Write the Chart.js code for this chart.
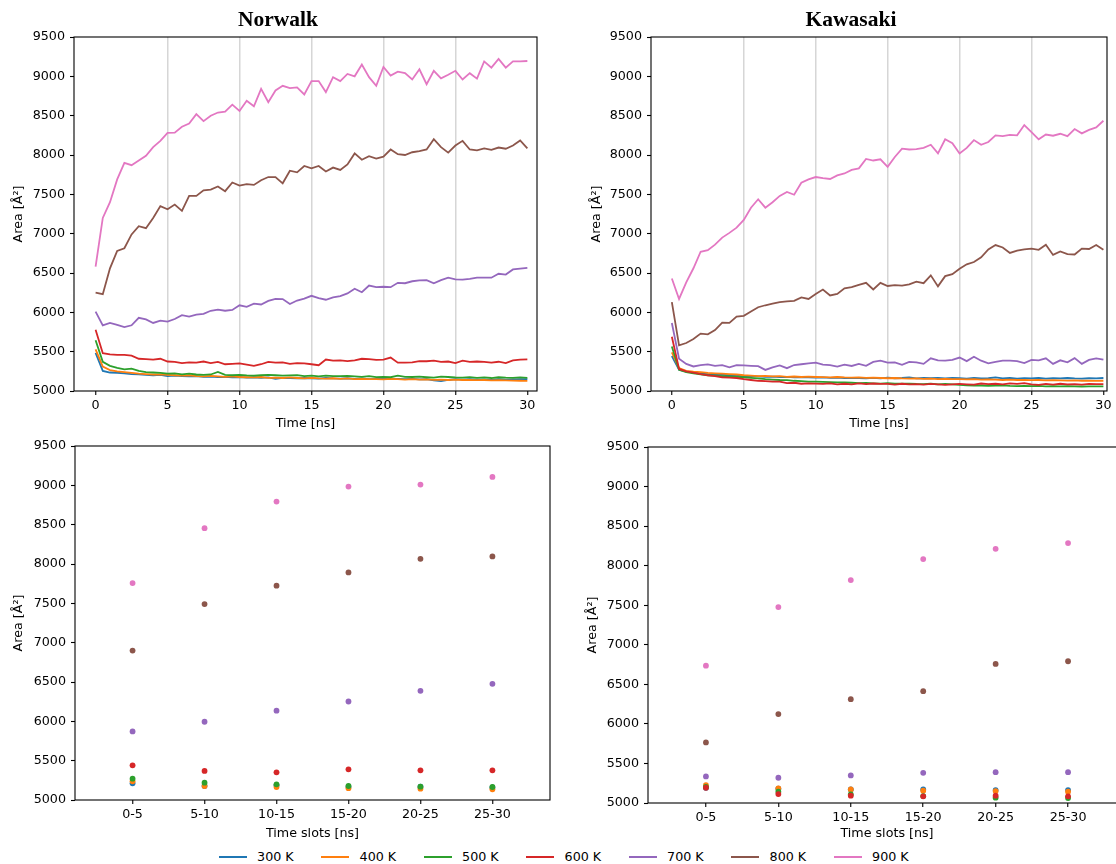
<!DOCTYPE html>
<html>
<head>
<meta charset="utf-8">
<script src="https://cdn.jsdelivr.net/npm/chart.js@4.4.1/dist/chart.umd.min.js"></script>
<style>
  html, body { margin: 0; padding: 0; background: #fff; }
  body { width: 1116px; height: 864px; position: relative; overflow: hidden; font-family: "DejaVu Sans", sans-serif; }
  canvas { position: absolute; }
  #legend { position: absolute; left: 218.6px; top: 848px; display: flex; font-size: 12.7px; color: #000; }
  .item { width: 102.5px; display: flex; align-items: center; height: 17px; white-space: nowrap; }
  .swatch { width: 28px; height: 2px; margin-right: 10.5px; }
</style>
</head>
<body>
<canvas id="norwalk-lines" width="556" height="432" style="left:0;top:0"></canvas>
<canvas id="kawasaki-lines" width="542" height="432" style="left:580px;top:0"></canvas>
<canvas id="norwalk-slots" width="570" height="410" style="left:0;top:432px"></canvas>
<canvas id="kawasaki-slots" width="560" height="410" style="left:580px;top:432px"></canvas>
<div id="legend"></div>
<script>
const TIME = [0, 0.5, 1, 1.5, 2, 2.5, 3, 3.5, 4, 4.5, 5, 5.5, 6, 6.5, 7, 7.5, 8, 8.5, 9, 9.5,
  10, 10.5, 11, 11.5, 12, 12.5, 13, 13.5, 14, 14.5, 15, 15.5, 16, 16.5, 17, 17.5, 18, 18.5, 19, 19.5,
  20, 20.5, 21, 21.5, 22, 22.5, 23, 23.5, 24, 24.5, 25, 25.5, 26, 26.5, 27, 27.5, 28, 28.5, 29, 29.5, 30];
const TIME_TICKS = [0, 5, 10, 15, 20, 25, 30];
const SLOT_LABELS = ["0-5", "5-10", "10-15", "15-20", "20-25", "25-30"];
const AREA_TICKS = [5000, 5500, 6000, 6500, 7000, 7500, 8000, 8500, 9000, 9500];
const SERIES_NAMES = ["300 K", "400 K", "500 K", "600 K", "700 K", "800 K", "900 K"];
const SERIES_COLORS = ["#1f77b4", "#ff7f0e", "#2ca02c", "#d62728", "#9467bd", "#8c564b", "#e377c2"];

// Norwalk, area vs time
const NORWALK_300K = [5485, 5255, 5235, 5232, 5225, 5215, 5212, 5205, 5200, 5205,
  5190, 5195, 5188, 5185, 5190, 5180, 5182, 5178, 5180, 5175,
  5178, 5170, 5175, 5168, 5172, 5155, 5168, 5165, 5160, 5165,
  5162, 5158, 5165, 5160, 5158, 5162, 5155, 5160, 5152, 5155,
  5158, 5150, 5155, 5150, 5155, 5148, 5150, 5135, 5125, 5140,
  5150, 5145, 5150, 5145, 5148, 5142, 5150, 5145, 5148, 5150, 5150];
const NORWALK_400K = [5530, 5310, 5265, 5250, 5240, 5230, 5220, 5215, 5210, 5212,
  5205, 5200, 5195, 5200, 5190, 5185, 5192, 5185, 5180, 5185,
  5178, 5175, 5172, 5178, 5168, 5170, 5165, 5172, 5165, 5160,
  5168, 5160, 5158, 5162, 5155, 5160, 5150, 5155, 5150, 5152,
  5148, 5155, 5150, 5145, 5150, 5145, 5148, 5142, 5145, 5140,
  5145, 5140, 5142, 5138, 5140, 5136, 5138, 5134, 5132, 5130, 5128];
const NORWALK_500K = [5645, 5370, 5320, 5295, 5275, 5285, 5255, 5240, 5235, 5230,
  5220, 5225, 5212, 5220, 5210, 5205, 5210, 5242, 5205, 5200,
  5205, 5198, 5195, 5200, 5205, 5200, 5195, 5198, 5202, 5190,
  5195, 5185, 5195, 5190, 5188, 5192, 5185, 5180, 5190, 5176,
  5180, 5175, 5195, 5180, 5178, 5182, 5175, 5170, 5182, 5178,
  5172, 5170, 5176, 5168, 5172, 5165, 5175, 5170, 5168, 5172, 5168];
const NORWALK_600K = [5780, 5480, 5465, 5458, 5458, 5450, 5410, 5405, 5400, 5410,
  5375, 5370, 5355, 5365, 5360, 5375, 5355, 5370, 5340, 5345,
  5350, 5335, 5320, 5340, 5370, 5360, 5365, 5345, 5355, 5350,
  5340, 5328, 5400, 5385, 5390, 5380, 5390, 5410, 5405, 5395,
  5400, 5425, 5360, 5360, 5365, 5380, 5378, 5385, 5370, 5375,
  5355, 5385, 5370, 5375, 5370, 5360, 5372, 5355, 5390, 5400, 5403];
const NORWALK_700K = [6010, 5835, 5865, 5840, 5812, 5835, 5930, 5910, 5865, 5895,
  5882, 5915, 5965, 5945, 5970, 5980, 6020, 6035, 6020, 6030,
  6090, 6070, 6110, 6100, 6145, 6170, 6168, 6105, 6150, 6175,
  6210, 6180, 6160, 6190, 6205, 6240, 6300, 6255, 6340, 6320,
  6325, 6320, 6375, 6370, 6395, 6405, 6410, 6370, 6410, 6440,
  6420, 6415, 6425, 6440, 6440, 6440, 6490, 6480, 6545, 6555, 6565];
const NORWALK_800K = [6250, 6230, 6560, 6780, 6815, 6990, 7095, 7070, 7200, 7350,
  7310, 7370, 7290, 7480, 7480, 7550, 7560, 7600, 7540, 7650,
  7610, 7630, 7620, 7680, 7720, 7720, 7640, 7800, 7780, 7860,
  7830, 7860, 7790, 7840, 7810, 7880, 8020, 7940, 7985, 7955,
  7980, 8070, 8010, 8000, 8035, 8050, 8070, 8200, 8100, 8030,
  8120, 8180, 8070, 8060, 8085, 8065, 8095, 8080, 8120, 8185, 8085];
const NORWALK_900K = [6580, 7200, 7400, 7690, 7900, 7870, 7930, 7990, 8100, 8180,
  8280, 8285, 8360, 8400, 8520, 8430, 8500, 8540, 8550, 8640,
  8560, 8690, 8620, 8840, 8670, 8820, 8880, 8850, 8860, 8770,
  8940, 8940, 8800, 8990, 8940, 9030, 9000, 9150, 8990, 8880,
  9120, 9010, 9060, 9040, 8960, 9090, 8900, 9070, 8975, 9020,
  9070, 8960, 9040, 8970, 9190, 9110, 9220, 9110, 9190, 9190, 9195];

// Kawasaki, area vs time
const KAWASAKI_300K = [5445, 5270, 5245, 5235, 5225, 5215, 5210, 5205, 5200, 5195,
  5190, 5188, 5185, 5180, 5182, 5178, 5180, 5175, 5178, 5172,
  5170, 5172, 5168, 5170, 5165, 5168, 5165, 5162, 5168, 5160,
  5170, 5162, 5165, 5172, 5160, 5165, 5162, 5168, 5160, 5165,
  5162, 5158, 5165, 5160, 5162, 5172, 5160, 5165, 5158, 5162,
  5160, 5165, 5158, 5162, 5160, 5165, 5160, 5158, 5162, 5160, 5165];
const KAWASAKI_400K = [5490, 5290, 5255, 5245, 5240, 5230, 5225, 5220, 5215, 5210,
  5200, 5195, 5190, 5192, 5185, 5188, 5180, 5184, 5178, 5182,
  5178, 5176, 5174, 5178, 5172, 5170, 5172, 5168, 5170, 5165,
  5162, 5165, 5160, 5158, 5160, 5155, 5158, 5152, 5155, 5150,
  5152, 5148, 5150, 5145, 5148, 5145, 5140, 5145, 5140, 5142,
  5138, 5140, 5135, 5138, 5135, 5132, 5135, 5130, 5132, 5128, 5130];
const KAWASAKI_500K = [5565, 5270, 5240, 5225, 5210, 5200, 5195, 5190, 5185, 5180,
  5175, 5168, 5160, 5150, 5145, 5140, 5138, 5130, 5125, 5120,
  5118, 5115, 5112, 5110, 5108, 5105, 5100, 5102, 5098, 5095,
  5100, 5095, 5092, 5095, 5090, 5088, 5092, 5085, 5090, 5085,
  5078, 5072, 5068, 5070, 5065, 5068, 5072, 5065, 5062, 5066,
  5062, 5065, 5060, 5062, 5058, 5062, 5060, 5057, 5060, 5058, 5058];
const KAWASAKI_600K = [5690, 5280, 5250, 5235, 5215, 5200, 5190, 5175, 5170, 5165,
  5150, 5140, 5130, 5125, 5118, 5120, 5100, 5105, 5092, 5098,
  5095, 5090, 5098, 5085, 5092, 5085, 5098, 5088, 5095, 5090,
  5090, 5082, 5092, 5085, 5088, 5080, 5090, 5085, 5078, 5085,
  5090, 5085, 5080, 5095, 5088, 5092, 5085, 5098, 5090, 5100,
  5085, 5078, 5090, 5082, 5092, 5085, 5088, 5080, 5090, 5088, 5088];
const KAWASAKI_700K = [5865, 5410, 5345, 5312, 5330, 5338, 5320, 5330, 5302, 5328,
  5325, 5320, 5315, 5268, 5300, 5325, 5290, 5330, 5340, 5350,
  5360, 5335, 5330, 5310, 5335, 5318, 5345, 5320, 5370, 5385,
  5360, 5365, 5332, 5370, 5365, 5345, 5415, 5390, 5385, 5395,
  5425, 5380, 5435, 5385, 5352, 5370, 5385, 5385, 5380, 5355,
  5395, 5390, 5415, 5345, 5390, 5365, 5418, 5345, 5395, 5415, 5398];
const KAWASAKI_800K = [6130, 5580, 5610, 5660, 5730, 5720, 5775, 5870, 5865, 5945,
  5955, 6010, 6065, 6090, 6110, 6130, 6140, 6145, 6190, 6170,
  6233, 6290, 6215, 6235, 6305, 6320, 6350, 6375, 6290, 6375,
  6335, 6345, 6340, 6355, 6390, 6370, 6470, 6330, 6460, 6485,
  6555, 6610, 6640, 6700, 6800, 6855, 6825, 6755, 6785, 6800,
  6810, 6795, 6860, 6730, 6775, 6740, 6735, 6810, 6805, 6856, 6795];
const KAWASAKI_900K = [6430, 6170, 6380, 6560, 6770, 6790, 6860, 6950, 7010, 7076,
  7174, 7330, 7437, 7330, 7400, 7480, 7530, 7495, 7648, 7690,
  7720, 7705, 7695, 7740, 7765, 7810, 7830, 7950, 7930, 7945,
  7850, 7975, 8080, 8070, 8075, 8090, 8130, 8020, 8200, 8150,
  8020, 8090, 8190, 8130, 8165, 8250, 8240, 8255, 8250, 8380,
  8290, 8200, 8260, 8245, 8270, 8240, 8330, 8275, 8320, 8350, 8435];

// Mean area per 5 ns time slot
const NORWALK_SLOT_300K = [5212, 5178, 5187, 5170, 5170, 5160];
const NORWALK_SLOT_400K = [5237, 5178, 5165, 5150, 5144, 5136];
const NORWALK_SLOT_500K = [5271, 5220, 5199, 5178, 5170, 5165];
const NORWALK_SLOT_600K = [5441, 5369, 5352, 5390, 5377, 5377];
const NORWALK_SLOT_700K = [5872, 5995, 6135, 6252, 6388, 6477];
const NORWALK_SLOT_800K = [6899, 7491, 7724, 7893, 8066, 8096];
const NORWALK_SLOT_900K = [7758, 8456, 8794, 8984, 9010, 9107];

const KAWASAKI_SLOT_300K = [5193, 5180, 5172, 5172, 5164, 5164];
const KAWASAKI_SLOT_400K = [5226, 5184, 5172, 5155, 5151, 5143];
const KAWASAKI_SLOT_500K = [5205, 5143, 5109, 5088, 5067, 5063];
const KAWASAKI_SLOT_600K = [5193, 5113, 5092, 5084, 5092, 5084];
const KAWASAKI_SLOT_700K = [5336, 5319, 5348, 5382, 5390, 5390];
const KAWASAKI_SLOT_800K = [5766, 6124, 6313, 6413, 6758, 6792];
const KAWASAKI_SLOT_900K = [6736, 7477, 7818, 8083, 8213, 8285];

const TICK_FONT = { family: "DejaVu Sans", size: 12.7 };

// box around the plot area, like matplotlib spines
const framePlugin = {
  id: "frame",
  afterDatasetsDraw(chart) {
    const { ctx, chartArea: a } = chart;
    ctx.save();
    ctx.strokeStyle = "#000";
    ctx.lineWidth = 1.1;
    ctx.strokeRect(a.left, a.top, a.right - a.left, a.bottom - a.top);
    ctx.restore();
  }
};

function areaAxis(layout) {
  return {
    type: "linear",
    min: 5000,
    max: 9500,
    afterBuildTicks: (scale) => { scale.ticks = AREA_TICKS.map((v) => ({ value: v })); },
    afterFit: (scale) => { scale.width = layout.yWidth; },
    border: { display: false },
    grid: { drawOnChartArea: false, drawTicks: true, tickLength: 4, tickColor: "#000", tickWidth: 1.1 },
    ticks: { color: "#000", font: TICK_FONT, padding: 5, callback: (v) => String(v) },
    title: { display: true, text: "Area [Å²]", color: "#000", font: TICK_FONT, padding: { top: layout.yTitlePad, bottom: 0 } }
  };
}

function bottomAxis(layout, titleText, tickValues, labelFor, gridColor) {
  return {
    type: "linear",
    min: layout.xMin,
    max: layout.xMax,
    afterBuildTicks: (scale) => { scale.ticks = tickValues.map((v) => ({ value: v })); },
    afterFit: (scale) => { scale.height = layout.xHeight; },
    border: { display: false },
    grid: {
      drawOnChartArea: Boolean(gridColor),
      drawTicks: true,
      tickLength: 4,
      tickColor: "#000",
      tickWidth: 1.1,
      lineWidth: 1.5,
      color: gridColor || "rgba(0,0,0,0)"
    },
    ticks: { color: "#000", font: TICK_FONT, padding: 3, maxRotation: 0, autoSkip: false, callback: labelFor },
    title: { display: true, text: titleText, color: "#000", font: TICK_FONT, padding: { top: 0, bottom: 0.4 } }
  };
}

function timeGridColor(ctx) {
  const v = ctx.tick ? ctx.tick.value : null;
  return v !== null && v > 0 && v < 30 ? "#d6d6d6" : "rgba(0,0,0,0)";
}

function renderTimeChart(canvasId, title, seriesList, layout) {
  const datasets = seriesList.map((values, i) => ({
    type: "line",
    label: SERIES_NAMES[i],
    data: TIME.map((t, j) => ({ x: t, y: values[j] })),
    borderColor: SERIES_COLORS[i],
    backgroundColor: SERIES_COLORS[i],
    borderWidth: 1.8,
    pointRadius: 0,
    tension: 0,
    fill: false,
    order: seriesList.length - i
  }));

  return new Chart(document.getElementById(canvasId), {
    type: "line",
    data: { datasets },
    options: {
      responsive: false,
      animation: false,
      devicePixelRatio: 1,
      layout: { padding: { left: 0, right: 0, top: 0, bottom: 0 } },
      plugins: {
        legend: { display: false },
        tooltip: { enabled: false },
        title: {
          display: true,
          text: title,
          color: "#000",
          font: { family: "Liberation Serif", weight: "bold", size: 21.5 },
          padding: { top: 8, bottom: 3.2 }
        }
      },
      scales: {
        x: bottomAxis(layout, "Time [ns]", TIME_TICKS, (v) => String(v), timeGridColor),
        y: areaAxis(layout),
        pad: {
          type: "linear",
          position: "right",
          display: true,
          afterFit: (scale) => { scale.width = layout.padRight; },
          ticks: { display: false },
          grid: { display: false },
          border: { display: false }
        }
      }
    },
    plugins: [framePlugin]
  });
}

function renderSlotChart(canvasId, seriesList, layout) {
  const datasets = seriesList.map((values, i) => ({
    type: "scatter",
    label: SERIES_NAMES[i],
    data: values.map((v, j) => ({ x: j, y: v })),
    backgroundColor: SERIES_COLORS[i],
    borderWidth: 0,
    pointRadius: 2.9,
    order: seriesList.length - i
  }));

  return new Chart(document.getElementById(canvasId), {
    type: "scatter",
    data: { datasets },
    options: {
      responsive: false,
      animation: false,
      devicePixelRatio: 1,
      layout: { padding: { left: 0, right: layout.padRight, top: layout.padTop, bottom: 0 } },
      plugins: {
        legend: { display: false },
        tooltip: { enabled: false }
      },
      scales: {
        x: bottomAxis(layout, "Time slots [ns]", [0, 1, 2, 3, 4, 5], (v) => SLOT_LABELS[v], null),
        y: areaAxis(layout)
      }
    },
    plugins: [framePlugin]
  });
}

function renderLegend() {
  document.getElementById("legend").innerHTML = SERIES_NAMES
    .map((name, i) => `<div class="item"><span class="swatch" style="background:${SERIES_COLORS[i]}"></span><span>${name}</span></div>`)
    .join("");
}

renderTimeChart("norwalk-lines", "Norwalk",
  [NORWALK_300K, NORWALK_400K, NORWALK_500K, NORWALK_600K, NORWALK_700K, NORWALK_800K, NORWALK_900K],
  { yWidth: 74, yTitlePad: 11.4, padRight: 19, xHeight: 41, xMin: -1.5, xMax: 30.67 });

renderTimeChart("kawasaki-lines", "Kawasaki",
  [KAWASAKI_300K, KAWASAKI_400K, KAWASAKI_500K, KAWASAKI_600K, KAWASAKI_700K, KAWASAKI_800K, KAWASAKI_900K],
  { yWidth: 71, yTitlePad: 9.4, padRight: 15, xHeight: 41, xMin: -1.45, xMax: 30.25 });

renderSlotChart("norwalk-slots",
  [NORWALK_SLOT_300K, NORWALK_SLOT_400K, NORWALK_SLOT_500K, NORWALK_SLOT_600K, NORWALK_SLOT_700K, NORWALK_SLOT_800K, NORWALK_SLOT_900K],
  { yWidth: 75, yTitlePad: 11.4, padRight: 20, padTop: 14, xHeight: 42, xMin: -0.8, xMax: 5.8 });

renderSlotChart("kawasaki-slots",
  [KAWASAKI_SLOT_300K, KAWASAKI_SLOT_400K, KAWASAKI_SLOT_500K, KAWASAKI_SLOT_600K, KAWASAKI_SLOT_700K, KAWASAKI_SLOT_800K, KAWASAKI_SLOT_900K],
  { yWidth: 68, yTitlePad: 5.4, padRight: 14, padTop: 15, xHeight: 39, xMin: -0.8, xMax: 5.8 });

renderLegend();
</script>
</body>
</html>
